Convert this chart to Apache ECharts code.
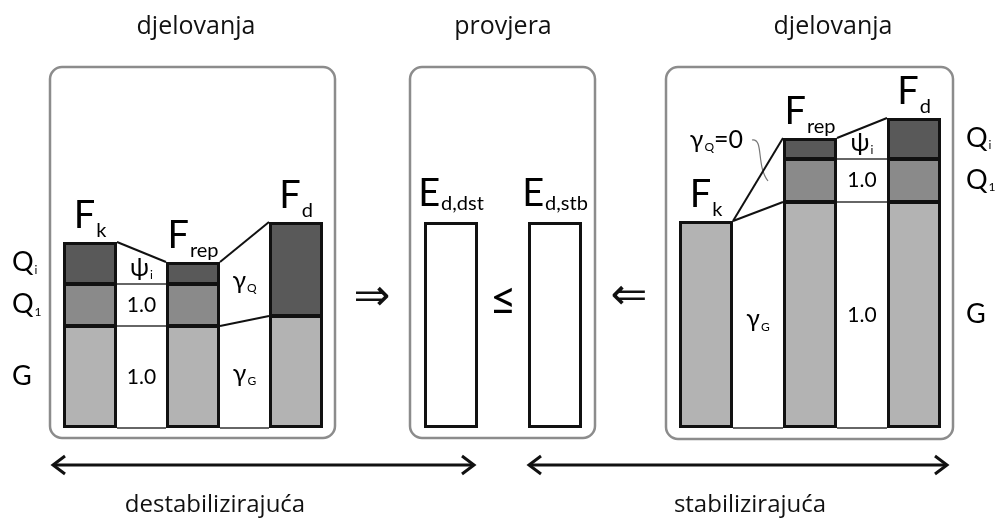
<!DOCTYPE html>
<html>
<head>
<meta charset="utf-8">
<script src="https://cdn.jsdelivr.net/npm/echarts@6/dist/echarts.min.js"></script>
<style>
  html, body { margin: 0; padding: 0; background: #fff; }
  #chart { width: 1000px; height: 527px; }
</style>
</head>
<body>
<div id="chart"></div>
<script>
// values (same arbitrary unit in all three panels)
const actionBars = ['F|k', 'F|rep', 'F|d'];
const dstG = [102, 102, 112];
const dstQ1 = [42, 42, '-'];
const dstQi = [42, 22, 94];
const checkBars = ['E|d,dst', 'E|d,stb'];
const checkE = [206, 206];
const stbG = [207, 226, 226];
const stbQ1 = ['-', 43, 43];
const stbQi = ['-', 21, 41];
const rowLabels = { Qi: 'Q|i', Q1: 'Q|1', G: 'G' };
const dstGaps = [{ Qi: 'ψ|i', Q1: '1.0', G: '1.0' }, { Q: 'γ|Q', G: 'γ|G' }];
const stbGaps = [{ G: 'γ|G' }, { Qi: 'ψ|i', Q1: '1.0', G: '1.0' }];
const stbNote = 'γ|Q|=0';
const topTitles = ['djelovanja', 'provjera', 'djelovanja'];
const bottomTitles = ['destabilizirajuća', 'stabilizirajuća'];

const FONT = 'Lato, "DejaVu Sans", sans-serif';
const TXT = '#1a1a1a';
const HALF = 27; // half of the bar width, px
const colors = { G: '#b3b3b3', Q1: '#8a8a8a', Qi: '#595959' };

const RICH = {
  F: { fontSize: 38, lineHeight: 40, verticalAlign: 'top', fontFamily: FONT, color: TXT },
  Fs: { fontSize: 20, lineHeight: 20, padding: [24, 0, 0, 1], verticalAlign: 'top', fontFamily: FONT, color: TXT },
  E: { fontSize: 38, lineHeight: 40, verticalAlign: 'top', fontFamily: FONT, color: TXT },
  Es: { fontSize: 20, lineHeight: 20, padding: [19, 0, 0, 1], verticalAlign: 'top', fontFamily: FONT, color: TXT },
  Q: { fontSize: 27, lineHeight: 28, verticalAlign: 'top', fontFamily: FONT, color: TXT },
  Qs: { fontSize: 12, lineHeight: 12, padding: [15, 0, 0, 1], verticalAlign: 'top', fontFamily: FONT, color: TXT },
  g: { fontSize: 25, lineHeight: 26, verticalAlign: 'top', fontFamily: FONT, color: TXT },
  gs: { fontSize: 12, lineHeight: 12, padding: [14, 0, 0, 1], verticalAlign: 'top', fontFamily: FONT, color: TXT },
  n: { fontSize: 21, lineHeight: 26, fontFamily: FONT, color: TXT },
  le: { fontSize: 46, fontFamily: FONT, color: TXT }
};

// 'main|sub|rest' -> rich string
function fmt(label, big, small) {
  const p = label.split('|');
  if (p.length === 1) return '{' + big + '|' + p[0] + '}';
  let s = '{' + big + '|' + p[0] + '}{' + small + '|' + p[1] + '}';
  if (p[2]) s += '{' + big + '|' + p[2] + '}';
  return s;
}

function num(v) { return v === '-' ? 0 : v; }

function levelsOf(g, q1, qi, i) {
  const a = num(g[i]), b = num(q1[i]), c = num(qi[i]);
  return { a: a, b: b, c: c, G: [0, a], Q1: [a, a + b], Qi: [a + b, a + b + c], Q: [a, a + b + c], top: a + b + c };
}

// each panel has a category axis (bars) and a value axis (lines, text) on the same grid
function barSeries(grid, name, values, color, bw) {
  return {
    type: 'bar', name: name, stack: 'p' + grid, xAxisIndex: grid * 2, yAxisIndex: grid,
    barWidth: HALF * 2, silent: true,
    data: values,
    itemStyle: { color: color, borderColor: '#111', borderWidth: bw || 2 }
  };
}

// heavier outline round each whole stack
function outlineSeries(grid, g, q1, qi) {
  return {
    type: 'custom', xAxisIndex: grid * 2 + 1, yAxisIndex: grid, silent: true, z: 4,
    data: g.map((v, i) => [i, levelsOf(g, q1, qi, i).top]),
    renderItem: function (params, api) {
      const b = api.coord([api.value(0), 0]);
      const t = api.coord([api.value(0), api.value(1)]);
      return {
        type: 'rect',
        shape: { x: b[0] - HALF + 1.5, y: t[1] + 1.5, width: HALF * 2 - 3, height: b[1] - t[1] - 3 },
        style: { fill: 'none', stroke: '#111', lineWidth: 3 }
      };
    }
  };
}

// lines between neighbouring bars
function linkSeries(grid, g, q1, qi) {
  const links = [];
  for (let i = 0; i < g.length - 1; i++) {
    const l = levelsOf(g, q1, qi, i), r = levelsOf(g, q1, qi, i + 1);
    links.push([i, 0, i + 1, 0, 0]);
    links.push([i, l.a, i + 1, r.a, l.a === l.top && r.a === r.top ? 1 : 0]);
    if (l.b > 0 && r.b > 0 && (l.a + l.b) !== l.top) links.push([i, l.a + l.b, i + 1, r.a + r.b, 0]);
    links.push([i, l.top, i + 1, r.top, 1]);
  }
  return {
    type: 'custom', xAxisIndex: grid * 2 + 1, yAxisIndex: grid, silent: true, z: 3,
    data: links,
    renderItem: function (params, api) {
      const a = api.coord([api.value(0), api.value(1)]);
      const b = api.coord([api.value(2), api.value(3)]);
      const strong = api.value(4) === 1 || api.value(1) !== api.value(3);
      return {
        type: 'line',
        shape: { x1: a[0] + HALF, y1: a[1], x2: b[0] - HALF, y2: b[1] },
        style: { stroke: strong ? '#111' : '#333', lineWidth: strong ? 2 : 1.5 }
      };
    }
  };
}

function textSeries(grid, items) {
  return {
    type: 'custom', xAxisIndex: grid * 2 + 1, yAxisIndex: grid, silent: true, z: 10,
    data: items.map(t => [t.x, t.y]),
    renderItem: function (params, api) {
      const t = items[params.dataIndex];
      const p = api.coord([api.value(0), api.value(1)]);
      return {
        type: 'text',
        x: p[0] + (t.dx || 0), y: p[1] + (t.dy || 0),
        style: { text: t.text, rich: RICH, align: t.align || 'center', verticalAlign: t.va || 'middle' }
      };
    }
  };
}

function panelTexts(names, g, q1, qi, gaps, rowSide) {
  const items = [];
  names.forEach((n, i) => {
    const l = levelsOf(g, q1, qi, i);
    items.push({ x: i, y: l.top, dy: -5, va: 'bottom', text: fmt(n, 'F', 'Fs') });
  });
  gaps.forEach((gap, i) => {
    const l = levelsOf(g, q1, qi, i), r = levelsOf(g, q1, qi, i + 1);
    Object.keys(gap).forEach(k => {
      const y = (l[k][0] + r[k][0] + l[k][1] + r[k][1]) / 4;
      const lab = gap[k];
      items.push({ x: i + 0.5, y: y, text: lab.indexOf('|') < 0 ? '{n|' + lab + '}' : fmt(lab, 'g', 'gs') });
    });
  });
  const ref = rowSide < 0 ? 0 : names.length - 1;
  const l = levelsOf(g, q1, qi, ref);
  ['Qi', 'Q1', 'G'].forEach(k => {
    items.push({
      x: ref, y: (l[k][0] + l[k][1]) / 2, dx: rowSide < 0 ? -78 : 52, align: 'left',
      text: fmt(rowLabels[k], 'Q', 'Qs')
    });
  });
  return items;
}

const dstTexts = panelTexts(actionBars, dstG, dstQ1, dstQi, dstGaps, -1);
const stbTexts = panelTexts(actionBars, stbG, stbQ1, stbQi, stbGaps, 1);
stbTexts.push({ x: 0.1, y: levelsOf(stbG, stbQ1, stbQi, 1).top - 2, text: fmt(stbNote, 'g', 'gs') });
const midTexts = checkBars.map((n, i) => ({ x: i, y: checkE[i], dy: -7, va: 'bottom', text: fmt(n, 'E', 'Es') }));
midTexts.push({ x: 0.5, y: checkE[0] * 0.62, text: '{le|≤}' });

const grids = [
  { left: 38.5, width: 309, top: 68, height: 360 },
  { left: 399, width: 208, top: 68, height: 360 },
  { left: 654, width: 312, top: 68, height: 360 }
];
const panelCats = [actionBars, checkBars, actionBars];

const xAxes = [];
grids.forEach((g, i) => {
  xAxes.push({ type: 'category', gridIndex: i, data: panelCats[i], show: false });
  xAxes.push({ type: 'value', gridIndex: i, min: -0.5, max: panelCats[i].length - 0.5, show: false });
});

const chart = echarts.init(document.getElementById('chart'));

function box(x, y, w, h) {
  return { type: 'rect', shape: { x: x, y: y, width: w, height: h, r: 12 }, style: { fill: 'none', stroke: '#8c8c8c', lineWidth: 2.5 }, z: 0 };
}
function dblArrow(x1, x2, y) {
  return {
    type: 'group', children: [
      { type: 'line', shape: { x1: x1 + 1, y1: y, x2: x2 - 1, y2: y }, style: { stroke: '#111', lineWidth: 3 } },
      { type: 'polyline', shape: { points: [[x1 + 12, y - 9], [x1, y], [x1 + 12, y + 9]] }, style: { stroke: '#111', lineWidth: 3, fill: 'none' } },
      { type: 'polyline', shape: { points: [[x2 - 12, y - 9], [x2, y], [x2 - 12, y + 9]] }, style: { stroke: '#111', lineWidth: 3, fill: 'none' } }
    ]
  };
}
function title(text, x, y, size) {
  return { type: 'text', x: x, y: y, style: { text: text, font: size + 'px "Open Sans", sans-serif', fill: '#111', align: 'center', verticalAlign: 'middle' } };
}

chart.setOption({
  animation: false,
  grid: grids,
  xAxis: xAxes,
  yAxis: grids.map((g, i) => ({ type: 'value', gridIndex: i, min: 0, max: 360, show: false })),
  series: [
    barSeries(0, 'G', dstG, colors.G),
    barSeries(0, 'Q1', dstQ1, colors.Q1),
    barSeries(0, 'Qi', dstQi, colors.Qi),
    outlineSeries(0, dstG, dstQ1, dstQi),
    linkSeries(0, dstG, dstQ1, dstQi),
    textSeries(0, dstTexts),
    barSeries(1, 'E', checkE, '#fff', 3),
    textSeries(1, midTexts),
    barSeries(2, 'G', stbG, colors.G),
    barSeries(2, 'Q1', stbQ1, colors.Q1),
    barSeries(2, 'Qi', stbQi, colors.Qi),
    outlineSeries(2, stbG, stbQ1, stbQi),
    linkSeries(2, stbG, stbQ1, stbQi),
    textSeries(2, stbTexts)
  ],
  graphic: [
    box(50, 67, 285, 371),
    box(410, 67, 185, 371),
    box(666, 67, 287, 372),
    { type: 'text', x: 372, y: 299, style: { text: '⇒', font: '44px "DejaVu Sans"', fill: '#111', align: 'center', verticalAlign: 'middle' } },
    { type: 'text', x: 629, y: 298, style: { text: '⇐', font: '44px "DejaVu Sans"', fill: '#111', align: 'center', verticalAlign: 'middle' } },
    { type: 'bezierCurve', shape: { x1: 752, y1: 140, cpx1: 764, cpy1: 138, cpx2: 756, cpy2: 166, x2: 768, y2: 181 }, style: { stroke: '#777', lineWidth: 1.2, fill: 'none' } },
    dblArrow(53, 474, 465),
    dblArrow(529, 947, 465),
    title(topTitles[0], 196, 27, 25),
    title(topTitles[1], 503, 27, 25),
    title(topTitles[2], 833, 27, 25),
    title(bottomTitles[0], 215, 505, 24),
    title(bottomTitles[1], 750, 505, 24)
  ]
});
</script>
</body>
</html>
